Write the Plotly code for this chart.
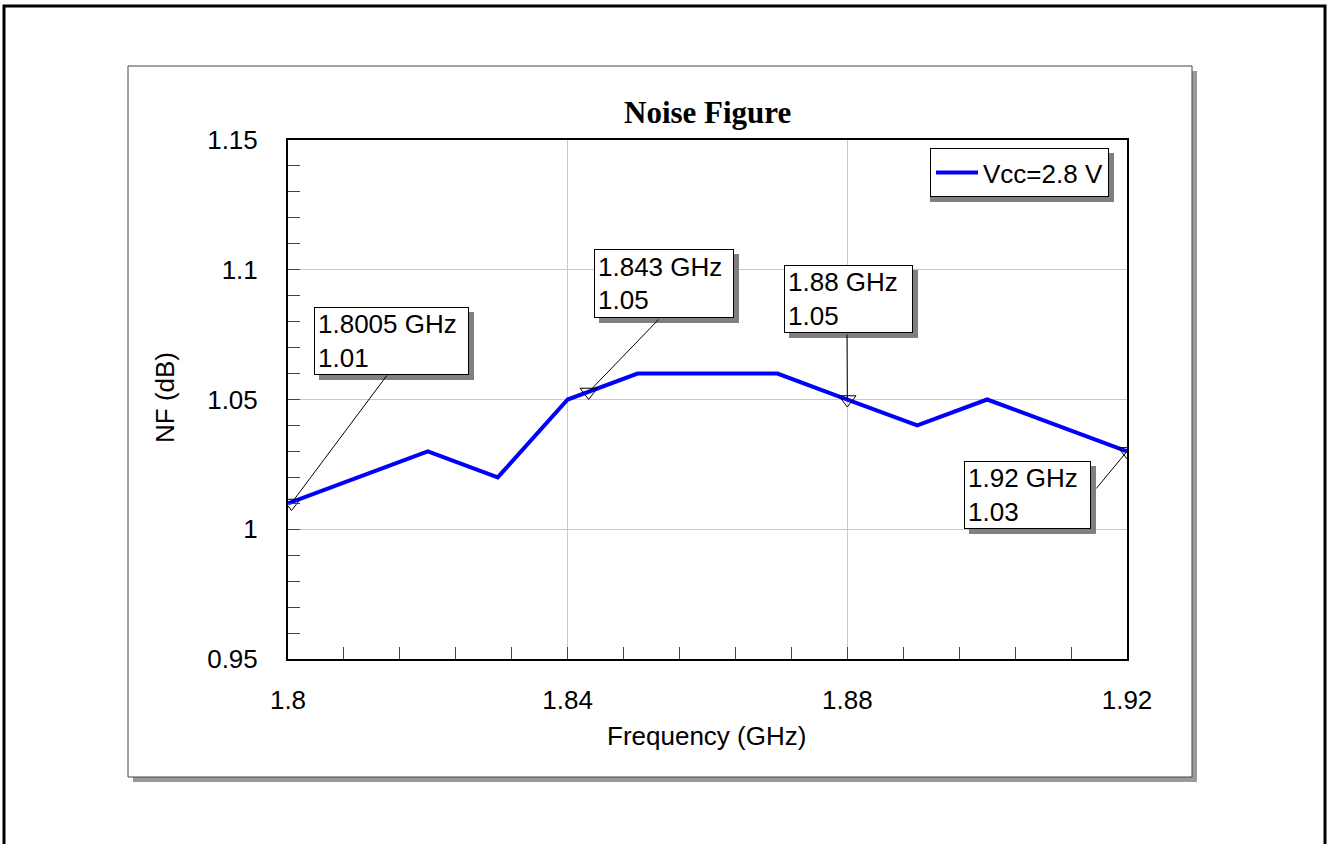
import plotly.graph_objects as go

# ---------------- data ----------------
freq_ghz = [1.80, 1.81, 1.82, 1.83, 1.84, 1.85, 1.86, 1.87, 1.88, 1.89, 1.90, 1.91, 1.92]
nf_db = [1.01, 1.02, 1.03, 1.02, 1.05, 1.06, 1.06, 1.06, 1.05, 1.04, 1.05, 1.04, 1.03]
series_name = "Vcc=2.8 V"

marker_freq = [1.8005, 1.843, 1.88, 1.92]
marker_nf = [1.0101, 1.0529, 1.05, 1.03]
marker_labels = ["1.8005 GHz<br>1.01", "1.843 GHz<br>1.05", "1.88 GHz<br>1.05", "1.92 GHz<br>1.03"]

x_tickvals = [1.80, 1.84, 1.88, 1.92]
x_ticktext = ["1.8", "1.84", "1.88", "1.92"]
y_tickvals = [0.95, 1.00, 1.05, 1.10, 1.15]
y_ticktext = ["0.95", "1", "1.05", "1.1", "1.15"]

# ---------------- layout geometry (pixels) ----------------
W, H = 1331, 844
L, R, T, B = 288, 1127, 140, 659
X0, X1 = 1.80, 1.92
Y0, Y1 = 0.95, 1.15


def px(xp):
    return (xp - L) / (R - L)


def py(yp):
    return (B - yp) / (B - T)


def dx(xp):
    return X0 + (xp - L) / (R - L) * (X1 - X0)


def dy(yp):
    return Y0 + (B - yp) / (B - T) * (Y1 - Y0)


FONT = "Liberation Sans, Arial, sans-serif"

fig = go.Figure()
fig.add_trace(go.Scatter(
    x=freq_ghz, y=nf_db, mode="lines", name=series_name,
    line=dict(color="#0000FF", width=4),
))
fig.add_trace(go.Scatter(
    x=marker_freq, y=marker_nf, mode="markers", showlegend=False,
    marker=dict(symbol="triangle-down-open", size=15, color="black",
                line=dict(color="black", width=1)),
))

shapes = []
# outer frame
shapes.append(dict(type="rect", xref="paper", yref="paper",
                   x0=px(4), x1=px(1325), y0=py(6), y1=py(852),
                   line=dict(color="black", width=3), fillcolor="rgba(0,0,0,0)", layer="below"))
# panel shadow + panel
shapes.append(dict(type="rect", xref="paper", yref="paper",
                   x0=px(133), x1=px(1197), y0=py(71), y1=py(782),
                   line=dict(width=0), fillcolor="#9a9a9a", layer="below"))
shapes.append(dict(type="rect", xref="paper", yref="paper",
                   x0=px(128), x1=px(1192), y0=py(66), y1=py(777),
                   line=dict(color="#444444", width=1), fillcolor="white", layer="below"))
# legend shadow
shapes.append(dict(type="rect", xref="paper", yref="paper",
                   x0=px(930), x1=px(1114), y0=py(153), y1=py(202),
                   line=dict(width=0), fillcolor="#808080", layer="above"))

# marker label boxes: (left, top, width, height) in pixels and connector tail
boxes = [(314, 307, 155, 68), (594, 249, 140, 69), (784, 265, 129, 68), (964, 461, 127, 68)]
tails = [(388, 374), (660, 318), (847, 333), (1095, 490)]

annotations = []
for (bl, bt, bw, bh), lab, mfx, mfy, (tx, ty) in zip(boxes, marker_labels, marker_freq, marker_nf, tails):
    shapes.append(dict(type="rect", xref="paper", yref="paper",
                       x0=px(bl + 5), x1=px(bl + bw + 5), y0=py(bt + 5), y1=py(bt + bh + 5),
                       line=dict(width=0), fillcolor="#808080", layer="above"))
    annotations.append(dict(
        xref="paper", yref="paper", x=px(bl), y=py(bt), xanchor="left", yanchor="top",
        text=lab, showarrow=False, align="left", valign="middle",
        width=bw - 8, height=bh - 8, borderpad=3, borderwidth=1,
        bordercolor="black", bgcolor="white",
        font=dict(family=FONT, size=26, color="black"),
    ))
    annotations.append(dict(
        x=mfx, y=mfy, xref="x", yref="y", axref="x", ayref="y",
        ax=dx(tx), ay=dy(ty), text="", showarrow=True,
        arrowhead=0, arrowwidth=1, arrowcolor="black", standoff=0, startstandoff=0,
    ))

# titles
annotations.append(dict(xref="paper", yref="paper", x=px(707), y=py(113),
                        xanchor="center", yanchor="middle", showarrow=False,
                        text="<b>Noise Figure</b>",
                        font=dict(family="Liberation Serif, Times New Roman, serif", size=31, color="black")))
annotations.append(dict(xref="paper", yref="paper", x=px(706), y=py(736),
                        xanchor="center", yanchor="middle", showarrow=False,
                        text="Frequency (GHz)", font=dict(family=FONT, size=26, color="black")))
annotations.append(dict(xref="paper", yref="paper", x=px(165), y=py(398),
                        xanchor="center", yanchor="middle", showarrow=False, textangle=-90,
                        text="NF (dB)", font=dict(family=FONT, size=26, color="black")))

fig.update_layout(
    width=W, height=H,
    margin=dict(l=L, r=W - R, t=T, b=H - B, pad=0),
    paper_bgcolor="white", plot_bgcolor="rgba(0,0,0,0)",
    font=dict(family=FONT, size=26, color="black"),
    shapes=shapes, annotations=annotations,
    showlegend=True,
    legend=dict(x=px(1109), y=py(148), xanchor="right", yanchor="top",
                bgcolor="white", bordercolor="black", borderwidth=1,
                font=dict(family=FONT, size=26, color="black"),
                tracegroupgap=0, itemwidth=42),
)
fig.update_xaxes(
    range=[X0, X1], tickvals=x_tickvals, ticktext=x_ticktext,
    showgrid=True, gridcolor="#c8c8c8", gridwidth=1,
    showline=True, linecolor="black", linewidth=2, mirror=True,
    ticks="inside", ticklen=12, tickcolor="#444444", tickwidth=1,
    minor=dict(dtick=0.008, tick0=1.8, ticks="inside", ticklen=12, tickcolor="#444444", showgrid=False),
    zeroline=False, ticklabelstandoff=17,
    tickfont=dict(family=FONT, size=26, color="black"),
)
fig.update_yaxes(
    range=[Y0, Y1], tickvals=y_tickvals, ticktext=y_ticktext,
    showgrid=True, gridcolor="#c8c8c8", gridwidth=1,
    showline=True, linecolor="black", linewidth=2, mirror=True,
    ticks="inside", ticklen=12, tickcolor="#444444", tickwidth=1,
    minor=dict(dtick=0.01, tick0=0.95, ticks="inside", ticklen=12, tickcolor="#444444", showgrid=False),
    zeroline=False, ticklabelstandoff=23,
    tickfont=dict(family=FONT, size=26, color="black"),
)

fig.write_html("out.html")
